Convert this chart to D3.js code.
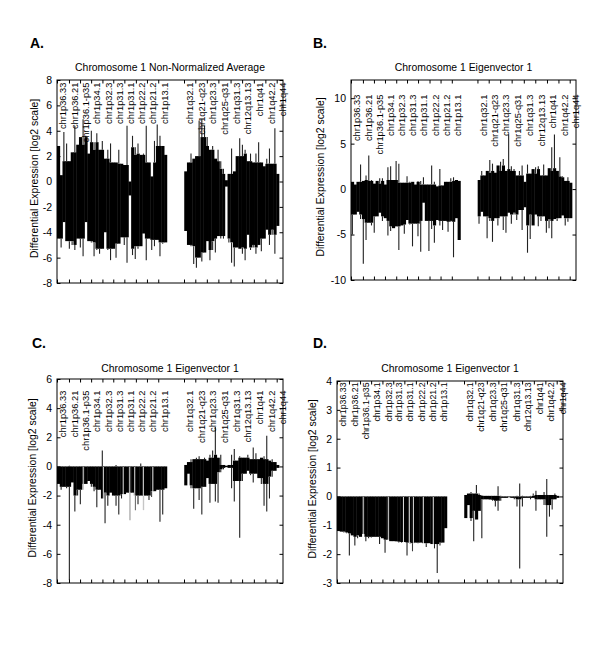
<!DOCTYPE html>
<html>
<head>
<meta charset="utf-8">
<script src="https://cdn.jsdelivr.net/npm/d3@7"></script>
<style>
  body { margin: 0; background: #fff; }
  svg { display: block; font-family: "Liberation Sans", Arial, sans-serif; }
</style>
</head>
<body>
<svg width="600" height="653"></svg>
<script>
// cytoband labels along chromosome 1 (p arm, then q arm)
const pLabels = ['chr1p36.33', 'chr1p36.21', 'chr1p36.1-p35', 'chr1p34.1', 'chr1p32.3',
                 'chr1p31.3', 'chr1p31.1', 'chr1p22.2', 'chr1p21.2', 'chr1p13.1'];
const qLabels = ['chr1q32.1', 'chr1q21-q23', 'chr1q23.3', 'chr1q25-q31', 'chr1q31.3',
                 'chr12q13.13', 'chr1q41', 'chr1q42.2', 'chr1q44'];

// gene position (0-100 along the x axis) of each band tick
const pTicks = [0, 5.3, 10.2, 15.1, 20.1, 24.9, 29.8, 34.9, 39.8, 44.8];
const qTicks = [56.2, 61.2, 66.3, 71.4, 76.8, 81.9, 87.1, 92.2, 97.2];

// extent of the two arms on the same axis
const pArm = [0, 48.6];
const qArm = [56.3, 98.2];

// y ticks
const aYTicks = [-8, -6, -4, -2, 0, 2, 4, 6, 8];
const bYTicks = [-10, -5, 0, 5, 10];
const cYTicks = [-8, -6, -4, -2, 0, 2, 4, 6];
const dYTicks = [-3, -2, -1, 0, 1, 2, 3, 4];

// per bin maximum (up) and minimum (down), log2
// A. Non-normalized average
const aPUp = [2.8, 0.5, 3.9, 3.0, 1.6, 2.3, 4.4, 2.9, 3.5, 4.9, 3.6, 2.2, 4.0, 3.1, 3.8, 2.5, 3.2, 1.8, 2.5, 3.0,
              1.5, 1.5, 2.5, 1.4, 1.3, 4.4, 0, 3.6, 2.7, 3.0, 2.1, 2.2, 4.4, 1.5, 0.4, 3.2, 4.5, 3.6, 2.8, 2.1];
const aPDown = [-4.5, -5.2, -3.2, -4.7, -5.3, -5.0, -5.4, -4.5, -5.2, -5.9, -3.2, -4.7, -4.8, -5.9, -5.4, -5.7, -5.3, -4.0, -5.4, -6.2,
                -5.3, -6.0, -4.9, -4.4, -5.0, -6.4, -1.1, -5.8, -6.1, -5.3, -5.1, -4.1, -6.2, -4.5, -5.4, -5.1, -4.6, -5.9, -4.9, -4.8];
const aQUp = [0.8, 1.5, 2.2, 1.8, 2.0, 4.8, 4.9, 4.4, 3.5, 2.5, 2.8, 1.8, 2.5, 1.6, 1.0, 0.1, 0.6, 2.6, 0.8, 2.0,
              3.4, 2.9, 2.5, 1.6, 2.2, 1.5, 2.2, 3.1, 1.5, 1.2, 1.8, 2.6, 1.4, 4.2, 0.6];
const aQDown = [-3.9, -5.0, -5.1, -6.5, -6.8, -6.0, -6.3, -5.6, -4.7, -6.2, -5.4, -5.6, -4.3, -4.5, -4.5, -0.4, -4.8, -6.4, -6.7, -5.2,
                -5.3, -5.7, -6.2, -4.2, -5.4, -5.2, -5.7, -5.0, -5.5, -4.5, -3.8, -5.0, -4.2, -5.7, -3.5];

// B. Eigenvector 1
const bPUp = [0.8, 0.5, 0.8, 2.7, 0.9, 1.5, 3.7, 1.0, 0.6, 0.9, 1.2, 1.2, 0.5, 2.4, 2.5, 1.0, 3.1, 2.8, 0.7, 0.7,
              1.4, 0.8, 0.8, 0.5, 0.9, 0.9, 1.3, 0.5, 0.5, 2.6, 0.8, 0.3, 2.2, 0.4, 0.8, 0.8, 1.2, 1.3, 1.0, 0.9];
const bPDown = [-5.0, -2.8, -2.5, -3.3, -8.2, -5.6, -3.7, -4.0, -4.8, -3.0, -2.6, -3.5, -3.2, -5.1, -4.6, -4.3, -4.1, -6.7, -4.0, -4.9,
                -3.4, -3.9, -6.3, -3.8, -5.2, -6.9, -1.5, -3.5, -6.8, -4.4, -5.9, -3.4, -4.0, -4.5, -3.5, -4.7, -3.6, -7.5, -3.2, -5.6];
const bQUp = [1.0, 2.0, 1.5, 2.0, 3.2, 2.8, 1.8, 2.6, 3.0, 3.3, 2.0, 6.0, 2.5, 2.2, 1.5, 2.0, 2.6, 0.8, 2.7, 1.7,
              2.2, 2.4, 2.5, 1.5, 2.7, 1.5, 2.3, 4.6, 6.0, 2.0, 3.5, 1.4, 0.9, 1.3, 0.7];
const bQDown = [-3.8, -2.5, -3.0, -5.4, -3.5, -5.8, -3.2, -4.0, -3.0, -4.5, -4.8, -2.6, -3.8, -2.8, -3.4, -2.3, -4.5, -2.0, -7.0, -5.5,
                -4.0, -2.8, -4.1, -3.5, -3.0, -4.8, -4.3, -5.4, -3.3, -3.5, -3.2, -2.9, -4.0, -3.6, -3.2];

// C. Eigenvector 1
const cPUp = [0, 0, 0, 0, 0.05, 0, 0, 0, 0, 0, 0, 0, 0, 0, 0, 0, 1.1, 0, 0, 0,
              0, 0.1, 0, 0, 0, 0, 0, 0, 0, 0, 0.2, 0, 0, 0, 0, 0, 0, 0, 0, 0];
const cPDown = [-1.2, -1.6, -1.4, -1.5, -7.8, -1.1, -3.1, -2.0, -2.6, -1.6, -1.2, -1.0, -1.4, -1.7, -2.8, -1.6, -2.2, -3.9, -2.7, -1.8,
                -2.0, -2.7, -3.3, -2.2, -1.9, -1.8, -3.7, -1.8, -3.0, -2.6, -2.0, -3.0, -2.0, -2.3, -2.1, -1.7, -1.6, -3.8, -3.3, -1.5];
const cQUp = [0.1, 0.3, 0.5, 0.5, 0.6, 0.7, 0.5, 0.6, 0.4, 0.8, 1.1, 2.7, 0.6, 0.8, 0.1, 0.05, 0.1, 0.8, 1.2, 0.4,
              0.7, 0.6, 0.6, 0.8, 0.5, 1.3, 0.9, 0.5, 0.6, 0.7, 2.1, 0.4, 0.5, 0.3, 0.1];
const cQDown = [-1.3, -0.5, -1.5, -2.9, -1.5, -2.3, -3.3, -1.4, -0.8, -2.5, -1.2, -2.4, -2.5, -0.4, -0.2, -0.05, -0.1, -1.5, -2.4, -1.0,
                -4.9, -1.0, -0.5, -0.3, -0.6, -1.1, -0.5, -0.8, -1.2, -2.7, -3.1, -2.2, -0.7, -0.3, -0.1];
const cPGaps = [11.6, 20.5, 29.3, 32.2, 34.4, 38.2, 42.4];

// D. Eigenvector 1
const dPUp = [0, 0, 0, 0, 0, 0, 0, 0, 0, 0, 0, 0, 0, 0, 0, 0, 0, 0, 0, 0,
              0, 0, 0, 0, 0, 0, 0, 0, 0, 0, 0, 0, 0, 0, 0, 0, 0, 0, 0, 0];
const dPDown = [-1.2, -1.22, -1.25, -1.28, -2.05, -1.35, -1.7, -1.45, -1.4, -1.3, -1.55, -1.45, -1.42, -1.4, -1.4, -1.65, -1.45, -1.95, -1.5, -1.55,
                -1.55, -1.57, -1.6, -1.6, -1.58, -2.05, -1.65, -1.9, -1.6, -1.62, -1.6, -1.62, -1.75, -1.62, -1.65, -1.8, -2.65, -1.7, -1.6, -1.1];
const dQUp = [0.05, 0.1, 0.15, 0.1, 0.4, 0.1, 0.05, 0.02, 0.02, 0.02, 0.02, 0.02, 0.35, 0.02, 0, 0, 0, 0, 0, 0.02,
              0.45, 0.02, 0, 0, 0.02, 0.1, 0.2, 0.05, 0.05, 0.15, 0.6, 0.05, 0.05, 0.1, 0.02];
const dQDown = [-0.75, -0.3, -0.85, -1.55, -0.8, -0.5, -1.45, -0.1, -0.1, -0.12, -0.15, -0.35, -0.5, -0.15, -0.05, -0.05, -0.03, -0.05, -0.1, -0.35,
                -2.5, -0.35, -0.05, -0.05, -0.1, -0.05, -0.5, -0.1, -0.1, -0.3, -1.4, -0.7, -0.45, -0.1, -0.05];
const dPGaps = [11.6, 22.7, 29.4, 32.0, 33.8, 38.2, 42.6];

const panels = [
  { letter: 'A.', letterX: 30, letterY: 48, title: 'Chromosome 1 Non-Normalized Average', titleY: 71,
    left: 57, right: 283, top: 80, bottom: 283, yDomain: [-8, 8], yTicks: aYTicks, yLabelX: 34,
    labelTop: 7.8, labelSize: 9.3, pUp: aPUp, pDown: aPDown, qUp: aQUp, qDown: aQDown, gaps: [] },
  { letter: 'B.', letterX: 313, letterY: 48, title: 'Chromosome 1 Eigenvector 1', titleY: 71,
    left: 351, right: 576, top: 80, bottom: 280, yDomain: [-10, 12], yTicks: bYTicks, yLabelX: 320,
    labelTop: 10.4, labelSize: 9.3, pUp: bPUp, pDown: bPDown, qUp: bQUp, qDown: bQDown, gaps: [] },
  { letter: 'C.', letterX: 32, letterY: 348, title: 'Chromosome 1 Eigenvector 1', titleY: 372,
    left: 57, right: 283, top: 379, bottom: 583, yDomain: [-8, 6], yTicks: cYTicks, yLabelX: 32,
    labelTop: 5.2, labelSize: 9.3, pUp: cPUp, pDown: cPDown, qUp: cQUp, qDown: cQDown, gaps: cPGaps },
  { letter: 'D.', letterX: 313, letterY: 348, title: 'Chromosome 1 Eigenvector 1', titleY: 372,
    left: 337, right: 563, top: 381, bottom: 583, yDomain: [-3, 4], yTicks: dYTicks, yLabelX: 312,
    labelTop: 3.95, labelSize: 8.8, pUp: dPUp, pDown: dPDown, qUp: dQUp, qDown: dQDown, gaps: dPGaps }
];

const svg = d3.select('svg');
panels.forEach(p => drawPanel(svg, p));

// solid part of a bin: second smallest magnitude in a 5-bin window, never beyond its own value
function coreValue(values, i) {
  const win = values.slice(Math.max(0, i - 2), i + 3)
    .sort((a, b) => Math.abs(a) - Math.abs(b));
  const base = win.length > 1 ? win[1] : win[0];
  return Math.abs(values[i]) < Math.abs(base) ? values[i] : base;
}

function drawArm(g, x, y, arm, up, down) {
  const n = up.length;
  const step = (arm[1] - arm[0]) / n;
  const bins = d3.range(n).map(i => ({
    x0: arm[0] + i * step,
    x1: arm[0] + (i + 1) * step,
    up: up[i],
    down: down[i],
    upCore: coreValue(up, i),
    downCore: coreValue(down, i)
  }));

  // solid mass
  g.append('g').selectAll('rect')
    .data(bins)
    .enter().append('rect')
    .attr('x', d => x(d.x0))
    .attr('width', d => x(d.x1) - x(d.x0) + 0.4)
    .attr('y', d => y(Math.max(d.upCore, 0)))
    .attr('height', d => Math.max(0.8, y(Math.min(d.downCore, 0)) - y(Math.max(d.upCore, 0))))
    .attr('fill', '#000');

  // thin spikes past the solid mass
  const spikes = [];
  bins.forEach(d => {
    const xm = (d.x0 + d.x1) / 2;
    if (d.up > d.upCore) spikes.push({ x: xm, a: d.upCore, b: d.up });
    if (d.down < d.downCore) spikes.push({ x: xm, a: d.downCore, b: d.down });
  });
  g.append('g').selectAll('line')
    .data(spikes)
    .enter().append('line')
    .attr('x1', d => x(d.x)).attr('x2', d => x(d.x))
    .attr('y1', d => y(d.a)).attr('y2', d => y(d.b))
    .attr('stroke', '#222')
    .attr('stroke-width', 1.1);
}

function drawPanel(svg, cfg) {
  const x = d3.scaleLinear().domain([0, 100]).range([cfg.left, cfg.right]);
  const y = d3.scaleLinear().domain(cfg.yDomain).range([cfg.bottom, cfg.top]);
  const g = svg.append('g');

  drawArm(g, x, y, pArm, cfg.pUp, cfg.pDown);
  drawArm(g, x, y, qArm, cfg.qUp, cfg.qDown);

  // probes with no change inside the p-arm block
  g.append('g').selectAll('line')
    .data(cfg.gaps)
    .enter().append('line')
    .attr('x1', d => x(d)).attr('x2', d => x(d))
    .attr('y1', y(0) + 0.5).attr('y2', cfg.bottom - 1)
    .attr('stroke', '#fff')
    .attr('stroke-width', 0.9);

  // axes, ticks pointing inward on all four sides
  const allTicks = pTicks.concat(qTicks);
  g.append('g')
    .attr('transform', `translate(${cfg.left},0)`)
    .call(d3.axisLeft(y).tickValues(cfg.yTicks).tickSize(-3.5).tickPadding(5).tickFormat(d => d))
    .call(a => a.select('.domain').remove())
    .call(a => a.selectAll('text').attr('font-size', 10.5).attr('font-family', null));
  g.append('g')
    .attr('transform', `translate(${cfg.right},0)`)
    .call(d3.axisRight(y).tickValues(cfg.yTicks).tickSize(-3.5).tickFormat(''))
    .call(a => a.select('.domain').remove());
  g.append('g')
    .attr('transform', `translate(0,${cfg.bottom})`)
    .call(d3.axisBottom(x).tickValues(allTicks).tickSize(-3.5).tickFormat(''))
    .call(a => a.select('.domain').remove());
  g.append('g')
    .attr('transform', `translate(0,${cfg.top})`)
    .call(d3.axisTop(x).tickValues(allTicks).tickSize(-3.5).tickFormat(''))
    .call(a => a.select('.domain').remove());
  g.selectAll('.tick line').attr('stroke', '#000');

  g.append('rect')
    .attr('x', cfg.left).attr('y', cfg.top)
    .attr('width', cfg.right - cfg.left).attr('height', cfg.bottom - cfg.top)
    .attr('fill', 'none').attr('stroke', '#000').attr('stroke-width', 1);

  // band labels, top aligned, just right of their tick
  const bands = pLabels.map((t, i) => ({ t, v: pTicks[i] }))
    .concat(qLabels.map((t, i) => ({ t, v: qTicks[i] })));
  const ly = y(cfg.labelTop);
  g.append('g').selectAll('text')
    .data(bands)
    .enter().append('text')
    .attr('transform', d => `translate(${x(d.v) + 6},${ly}) rotate(-90)`)
    .attr('text-anchor', 'end')
    .attr('dy', '0.35em')
    .attr('font-size', cfg.labelSize)
    .text(d => d.t);

  // title, panel letter, y label
  g.append('text')
    .attr('x', (cfg.left + cfg.right) / 2).attr('y', cfg.titleY)
    .attr('text-anchor', 'middle')
    .attr('font-size', 10.4)
    .text(cfg.title);

  g.append('text')
    .attr('x', cfg.letterX).attr('y', cfg.letterY)
    .attr('font-size', 14).attr('font-weight', 'bold')
    .text(cfg.letter);

  g.append('text')
    .attr('transform', `translate(${cfg.yLabelX},${(cfg.top + cfg.bottom) / 2 - 3}) rotate(-90)`)
    .attr('text-anchor', 'middle')
    .attr('dy', '0.35em')
    .attr('font-size', 10.4)
    .text('Differential Expression [log2 scale]');
}
</script>
</body>
</html>
